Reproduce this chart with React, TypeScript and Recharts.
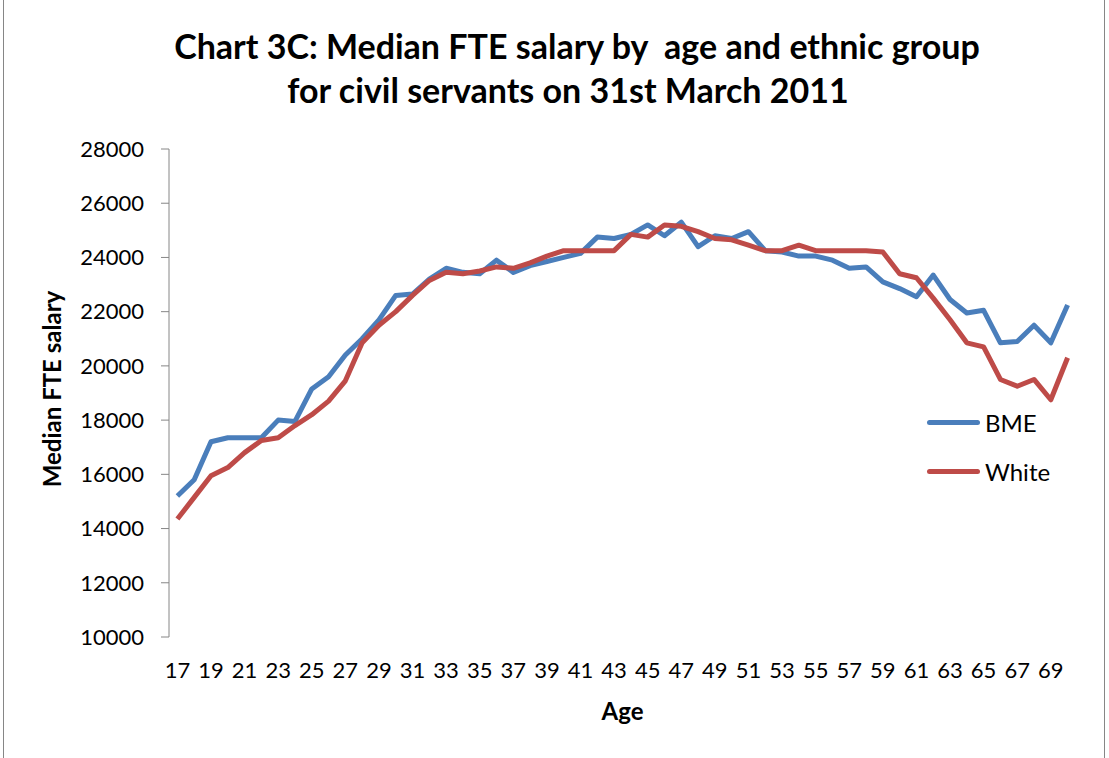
import { LineChart, Line, XAxis, YAxis, Legend } from 'recharts'

const AGES = [
	17, 18, 19, 20, 21, 22, 23, 24, 25, 26, 27, 28, 29, 30, 31, 32, 33, 34, 35, 36, 37, 38, 39, 40, 41, 42, 43,
	44, 45, 46, 47, 48, 49, 50, 51, 52, 53, 54, 55, 56, 57, 58, 59, 60, 61, 62, 63, 64, 65, 66, 67, 68, 69, 70,
]

const BME = [
	15200, 15800, 17200, 17350, 17350, 17350, 18000, 17950, 19150, 19600, 20400, 21000, 21700, 22600, 22650,
	23200, 23600, 23450, 23400, 23900, 23450, 23700, 23850, 24000, 24150, 24750, 24700, 24850, 25200, 24800,
	25300, 24400, 24800, 24700, 24950, 24250, 24200, 24050, 24050, 23900, 23600, 23650, 23100, 22850, 22550,
	23350, 22450, 21950, 22050, 20850, 20900, 21500, 20850, 22250,
]

const WHITE = [
	14350, 15150, 15950, 16250, 16800, 17250, 17350, 17800, 18200, 18700, 19450, 20850, 21500, 22000, 22600,
	23150, 23450, 23400, 23500, 23650, 23600, 23800, 24050, 24250, 24250, 24250, 24250, 24850, 24750, 25200,
	25150, 24950, 24700, 24650, 24450, 24250, 24250, 24450, 24250, 24250, 24250, 24250, 24200, 23400, 23250,
	22500, 21700, 20850, 20700, 19500, 19250, 19500, 18750, 20300,
]

const AGE_LABELS = [17, 19, 21, 23, 25, 27, 29, 31, 33, 35, 37, 39, 41, 43, 45, 47, 49, 51, 53, 55, 57, 59, 61, 63, 65, 67, 69]

const SALARY_TICKS = [10000, 12000, 14000, 16000, 18000, 20000, 22000, 24000, 26000, 28000]

const SERIES = [
	{ key: 'bme', name: 'BME', color: '#4A7EBB' },
	{ key: 'white', name: 'White', color: '#BE4B48' },
]

const FONT = 'Lato, "Open Sans", sans-serif'
const AXIS_COLOR = '#868686'

const data = AGES.map((age, i) => ({ age, bme: BME[i], white: WHITE[i] }))

// Excel puts the tick marks between the categories
const tickMarks = [...AGES.map((a) => a - 0.5), AGES[AGES.length - 1] + 0.5]
const xDomain = [tickMarks[0], tickMarks[tickMarks.length - 1]]

const renderLegend = () => (
	<div style={{ fontFamily: FONT, fontSize: 24, color: '#000' }}>
		{SERIES.map((s) => (
			<div key={s.key} style={{ display: 'flex', alignItems: 'center', height: 49 }}>
				<div style={{ width: 53, height: 5, borderRadius: 3, background: s.color, marginRight: 5 }} />
				<span>{s.name}</span>
			</div>
		))}
	</div>
)

const renderYLabel = (props: any) => {
	const vb = props.viewBox
	const cx = 51
	const cy = vb.y + vb.height / 2 - 4
	return (
		<text
			x={cx}
			y={cy}
			transform={`rotate(-90 ${cx} ${cy})`}
			textAnchor="middle"
			dominantBaseline="central"
			fontFamily={FONT}
			fontWeight="bold"
			fontSize={24}
			fill="#000"
		>
			Median FTE salary
		</text>
	)
}

export default function App() {
	return (
		<div style={{ position: 'absolute', left: 0, top: 0, width: 1109, height: 758, background: '#fff' }}>
			<div
				style={{
					position: 'absolute',
					left: 3,
					top: -1,
					width: 1100,
					height: 760,
					borderLeft: `1px solid ${AXIS_COLOR}`,
					borderRight: `1px solid ${AXIS_COLOR}`,
				}}
			/>
			<LineChart width={1109} height={758} data={data} margin={{ top: 149, right: 33, bottom: 21, left: 89 }}>
				<XAxis
					xAxisId="marks"
					type="number"
					dataKey="age"
					domain={xDomain}
					ticks={tickMarks}
					interval={0}
					tickFormatter={() => ''}
					height={0}
					tickSize={7}
					stroke={AXIS_COLOR}
				/>
				<XAxis
					xAxisId="labels"
					type="number"
					dataKey="age"
					domain={xDomain}
					ticks={AGE_LABELS}
					interval={0}
					axisLine={false}
					tickLine={false}
					tickSize={0}
					tickMargin={25}
					height={100}
					tick={{ fill: '#000', fontSize: 22, fontFamily: FONT }}
					label={{
						value: 'Age',
						position: 'insideBottom',
						offset: 17,
						fill: '#000',
						fontSize: 24,
						fontWeight: 'bold',
						fontFamily: FONT,
					}}
				/>
				<YAxis
					type="number"
					domain={[10000, 28000]}
					ticks={SALARY_TICKS}
					interval={0}
					width={80}
					tickSize={8}
					tickMargin={17}
					stroke={AXIS_COLOR}
					tick={{ fill: '#000', fontSize: 22, fontFamily: FONT }}
					label={{ content: renderYLabel }}
				/>
				{SERIES.map((s) => (
					<Line
						key={s.key}
						xAxisId="marks"
						type="linear"
						dataKey={s.key}
						name={s.name}
						stroke={s.color}
						strokeWidth={5}
						strokeLinejoin="round"
						dot={false}
						isAnimationActive={false}
					/>
				))}
				<Legend
					layout="vertical"
					align="center"
					verticalAlign="middle"
					wrapperStyle={{ top: 398, left: 927, width: 170 }}
					content={renderLegend}
				/>
			</LineChart>
			<svg width={1109} height={120} style={{ position: 'absolute', left: 0, top: 0, pointerEvents: 'none' }}>
				<text
					x={577}
					y={59}
					textAnchor="middle"
					fontFamily={FONT}
					fontWeight="bold"
					fontSize={34}
					fill="#000"
					xmlSpace="preserve"
					style={{ whiteSpace: 'pre' }}
				>
					{'Chart 3C: Median FTE salary by  age and ethnic group'}
				</text>
				<text x={568} y={103} textAnchor="middle" fontFamily={FONT} fontWeight="bold" fontSize={34} fill="#000">
					{'for civil servants on 31st March 2011'}
				</text>
			</svg>
		</div>
	)
}
